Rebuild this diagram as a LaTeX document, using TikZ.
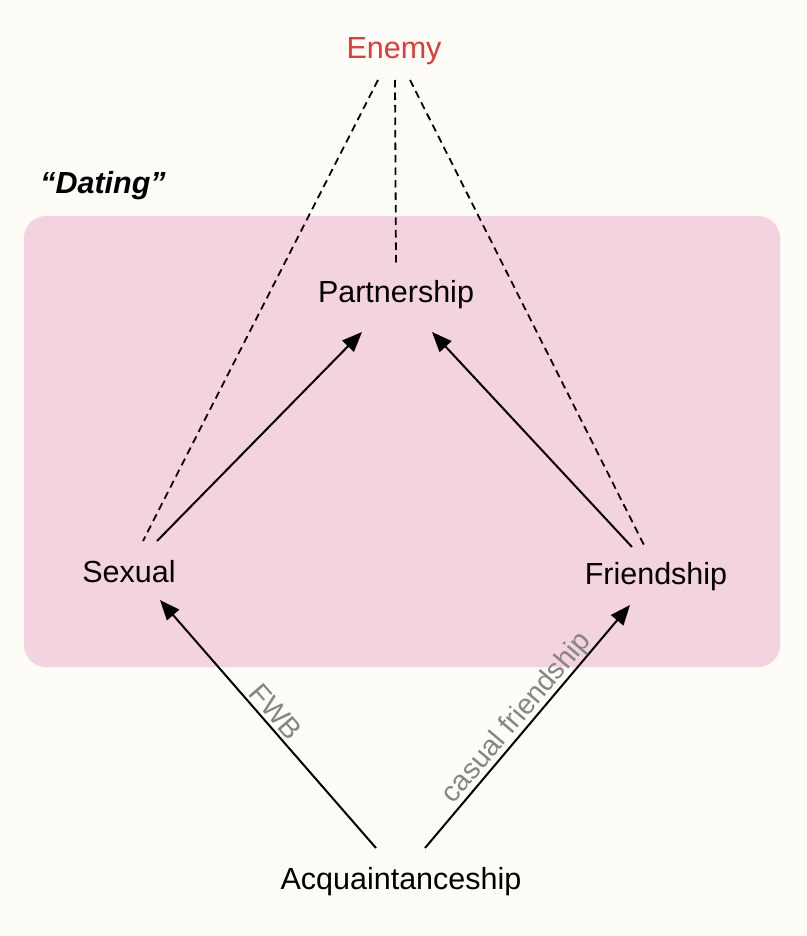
\documentclass[tikz,border=0pt]{standalone}
\usepackage{fontspec}
\setmainfont{Liberation Sans}
\usetikzlibrary{arrows.meta,calc}
\definecolor{bgcol}{HTML}{FDFCF6}
\definecolor{pinkbox}{HTML}{F4D3E0}
\definecolor{enemyred}{HTML}{E2393A}
\definecolor{lblgray}{HTML}{858585}
\tikzset{
  lbl/.style={font=\fontsize{30.5}{36}\selectfont, inner sep=0pt, anchor=center},
  edgelbl/.style={font=\fontsize{28.5}{33}\selectfont, text=lblgray, inner sep=0pt, anchor=center},
  dashline/.style={line width=1.8pt, dash pattern=on 7.5pt off 5pt},
  arrowline/.style={line width=2pt, -{Triangle[length=20pt,width=16pt]}},
}
\begin{document}
\begin{tikzpicture}[x=1pt,y=-1pt]
\useasboundingbox (0,0) rectangle (806,936);
\fill[bgcol] (0,0) rectangle (806,936);
\fill[pinkbox, rounded corners=22pt] (24,216) rectangle (780,667);

\node[lbl, text=enemyred] (enemy) at (394,51) {Enemy};
\node[lbl, font=\fontsize{30.5}{36}\selectfont\bfseries\itshape] (dating) at (103,186) {“Dating”};
\node[lbl] (part) at (396,295) {Partnership};
\node[lbl] (sex) at (129,572) {Sexual};
\node[lbl] (fri) at (656,577) {Friendship};
\node[lbl] (acq) at (401,882) {Acquaintanceship};

% dashed lines to Enemy
\draw[dashline] ($(enemy)+(-16,29)$) -- ($(sex)+(14,-31)$);
\draw[dashline] ($(enemy)+(1,29)$) -- ($(part)+(0,-30)$);
\draw[dashline] ($(enemy)+(16,29)$) -- ($(fri)+(-11,-30)$);

% arrows
\draw[arrowline] ($(sex)+(28,-31)$) -- ($(part)+(-34,37)$);
\draw[arrowline] ($(fri)+(-24,-30)$) -- ($(part)+(36,37)$);
\draw[arrowline] ($(acq)+(-25,-34)$) -- ($(sex)+(31,28)$);
\draw[arrowline] ($(acq)+(24,-34)$) -- ($(fri)+(-26,28)$);

% edge labels
\node[edgelbl, rotate=-48.9] (fwb) at (276,712) {FWB};
\node[edgelbl, rotate=49.8] (casual) at (517,718) {casual friendship};
\end{tikzpicture}
\end{document}
